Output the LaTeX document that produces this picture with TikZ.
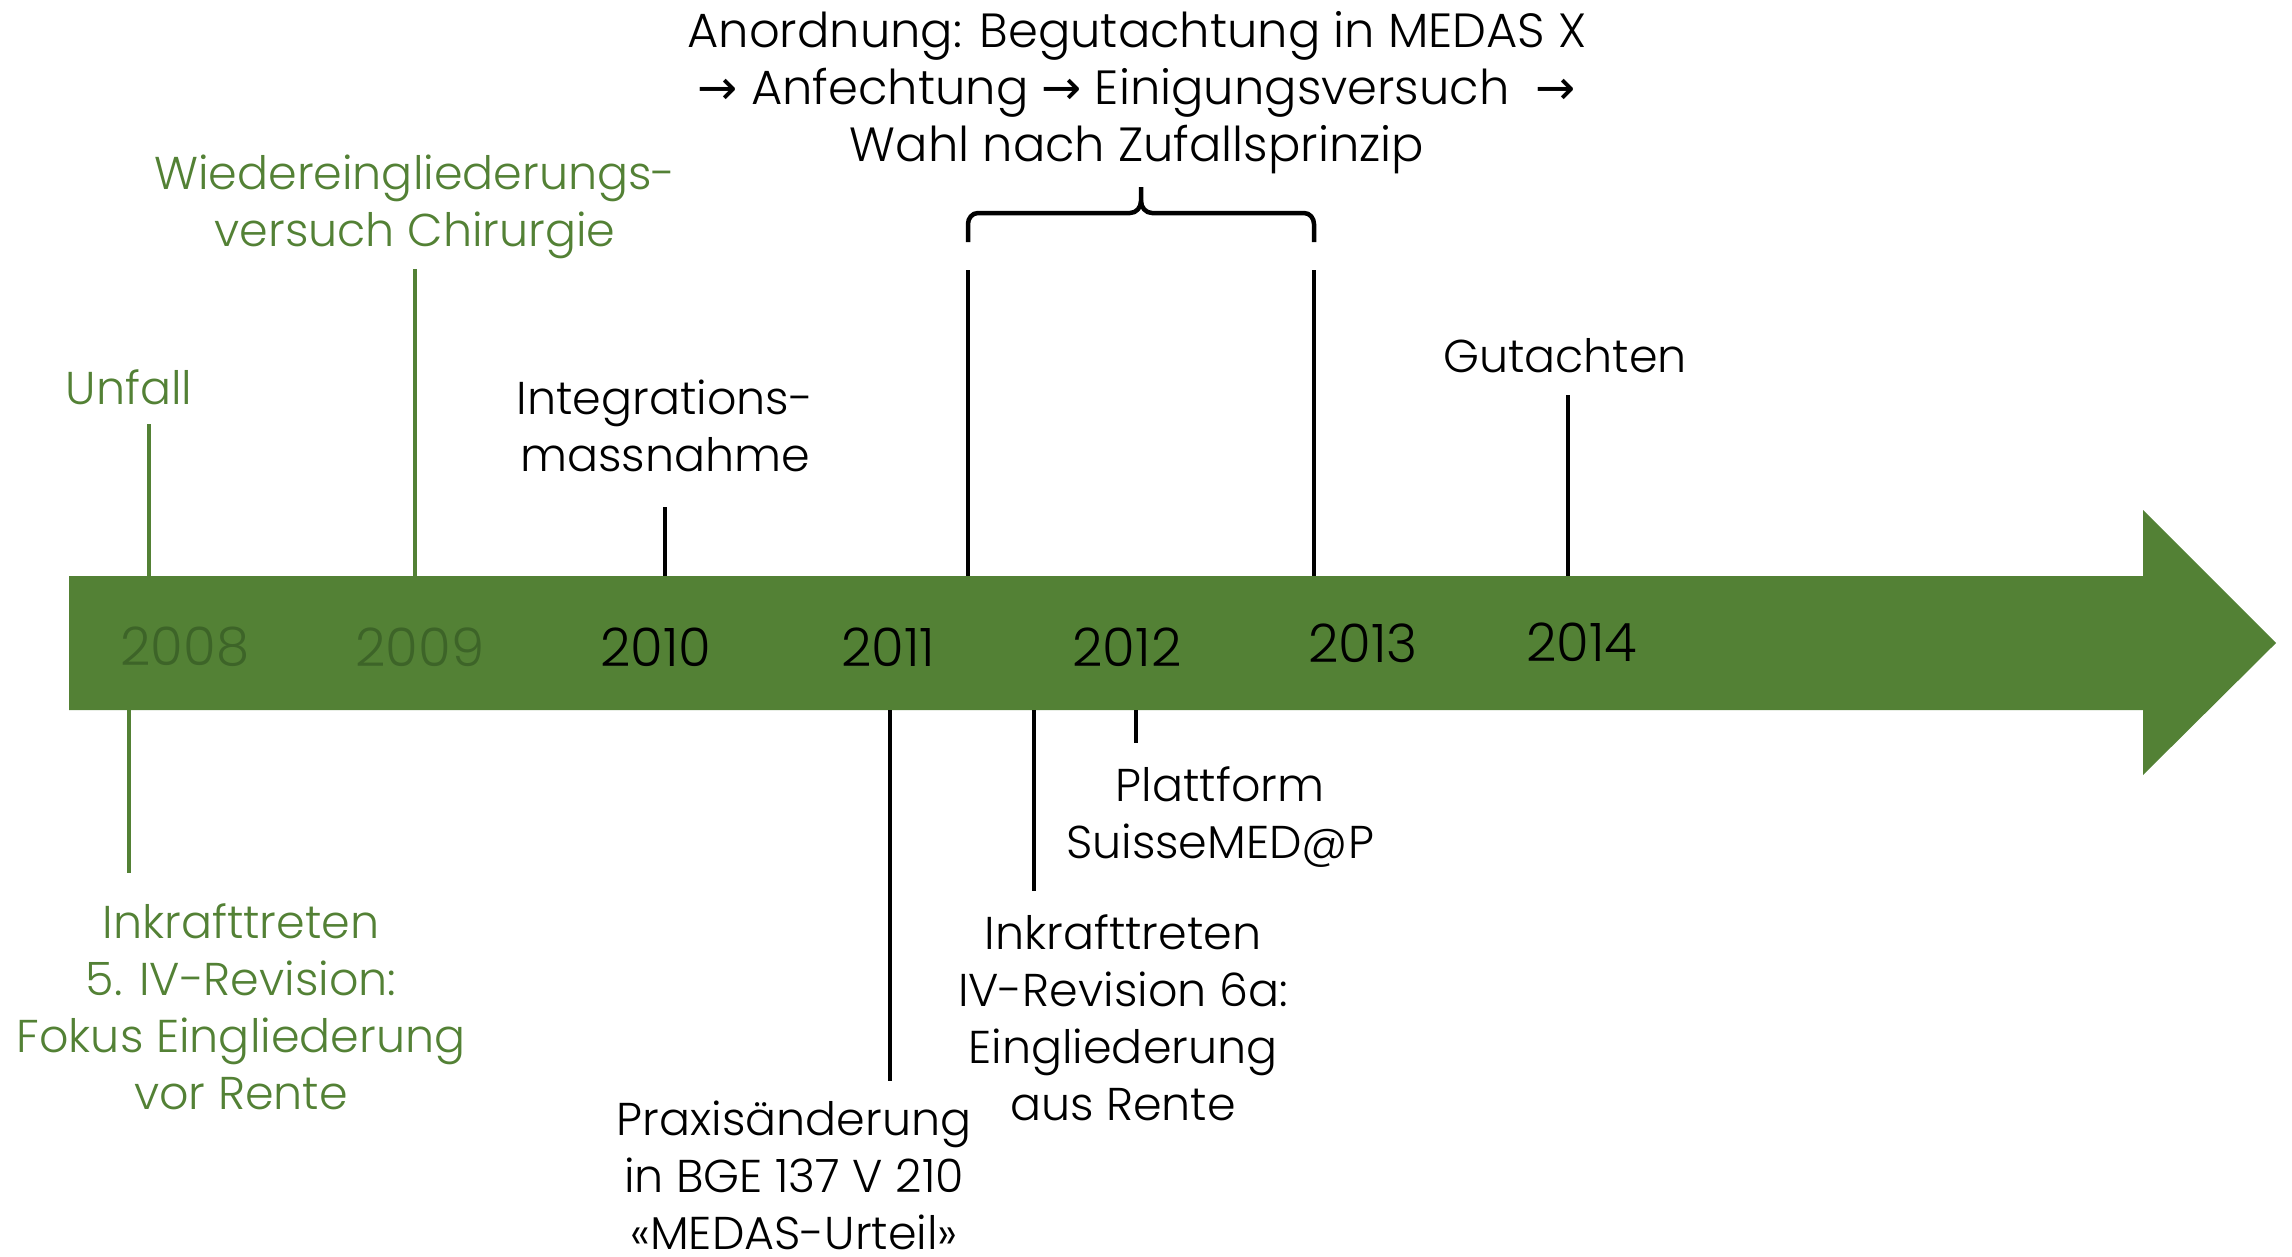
\documentclass[tikz,border=0pt]{standalone}
\usepackage{fontspec}
\setmainfont{Poppins}[UprightFont={* Light}]
\newfontfamily\arrowfont{DejaVu Sans}
\definecolor{bargreen}{HTML}{538135}
\definecolor{yeardk}{HTML}{3D6428}
\tikzset{
  lbl/.style={font=\fontsize{46}{57}\selectfont, align=center, inner sep=0pt},
  yr/.style={font=\fontsize{53}{60}\selectfont, inner sep=0pt},
  gline/.style={draw=bargreen, line width=3.5pt},
  bline/.style={draw=black, line width=4.5pt},
}
\begin{document}
\begin{tikzpicture}[x=1pt,y=-1pt]
\useasboundingbox (0,0) rectangle (2292,1256);
% bar arrow
\fill[bargreen] (69,576) -- (2143,576) -- (2143,510) -- (2276,643) -- (2143,775) -- (2143,710) -- (69,710) -- cycle;
\coordinate (bartop) at (0,576);
\coordinate (barbot) at (0,710);
% years
\node[yr, text=yeardk] (y2008) at (185,647) {2008};
\node[yr, text=yeardk] (y2009) at (420,647) {2009};
\node[yr] (y2010) at (656,647) {2010};
\node[yr] (y2011) at (888,647) {2011};
\node[yr] (y2012) at (1127,647) {2012};
\node[yr] (y2013) at (1363,643) {2013};
\node[yr] (y2014) at (1582,642) {2014};
% upper labels
\node[lbl, text=bargreen] (unfall) at (129,387) {Unfall};
\node[lbl, text=bargreen] (wieder) at (415,207) {Wiedereingliederungs-\\versuch Chirurgie};
\node[lbl] (integ) at (665,426) {Integrations-\\massnahme};
\node[lbl, font=\fontsize{48}{57}\selectfont] (anord) at (1137,93) {Anordnung: Begutachtung in MEDAS X\\{\arrowfont →} Anfechtung {\arrowfont →} Einigungsversuch\ \ {\arrowfont →}\\Wahl nach Zufallsprinzip};
\node[lbl] (gutachten) at (1565,356) {Gutachten};
% lower labels
\node[lbl, text=bargreen] (ink5) at (241,1007) {Inkrafttreten\\5. IV-Revision:\\Fokus Eingliederung\\vor Rente};
\node[lbl] (praxis) at (794,1175) {Praxisänderung\\in BGE 137 V 210\\«MEDAS-Urteil»};
\node[lbl] (ink6) at (1123,1018) {Inkrafttreten\\IV-Revision 6a:\\Eingliederung\\aus Rente};
\node[lbl] (plattform) at (1220,817) {Plattform\\SuisseMED@P};
% line ends
\coordinate (cUnf) at (149,424);
\coordinate (cWie) at (415,269);
\coordinate (cInt) at (665,507);
\coordinate (cBrL) at (968,270);
\coordinate (cBrR) at (1314,270);
\coordinate (cGut) at (1568,395);
\coordinate (cInk5) at (129,873);
\coordinate (cPrx) at (890,1081);
\coordinate (cInk6) at (1034,891);
\coordinate (cPlt) at (1136,743);
% upper connectors
\draw[gline] (cUnf) -- (cUnf |- bartop);
\draw[gline] (cWie) -- (cWie |- bartop);
\draw[bline] (cInt) -- (cInt |- bartop);
\draw[bline] (cBrL) -- (cBrL |- bartop);
\draw[bline] (cBrR) -- (cBrR |- bartop);
\draw[bline] (cGut) -- (cGut |- bartop);
% lower connectors
\draw[gline] (cInk5 |- barbot) -- (cInk5);
\draw[bline] (cPrx |- barbot) -- (cPrx);
\draw[bline] (cInk6 |- barbot) -- (cInk6);
\draw[bline] (cPlt |- barbot) -- (cPlt);
% brace
\coordinate (brL) at (968,242);
\coordinate (brR) at (1314,242);
\coordinate (brTip) at (1141,187);
\draw[line width=4.5pt, line join=round] (brL) -- (968,224) to[out=90,in=180] (978,213) -- (1130,213) to[out=0,in=-90] (1141,201) -- (brTip);
\draw[line width=4.5pt, line join=round] (1141,201) to[out=-90,in=180] (1152,213) -- (1304,213) to[out=0,in=90] (1314,224) -- (brR);
\end{tikzpicture}
\end{document}
